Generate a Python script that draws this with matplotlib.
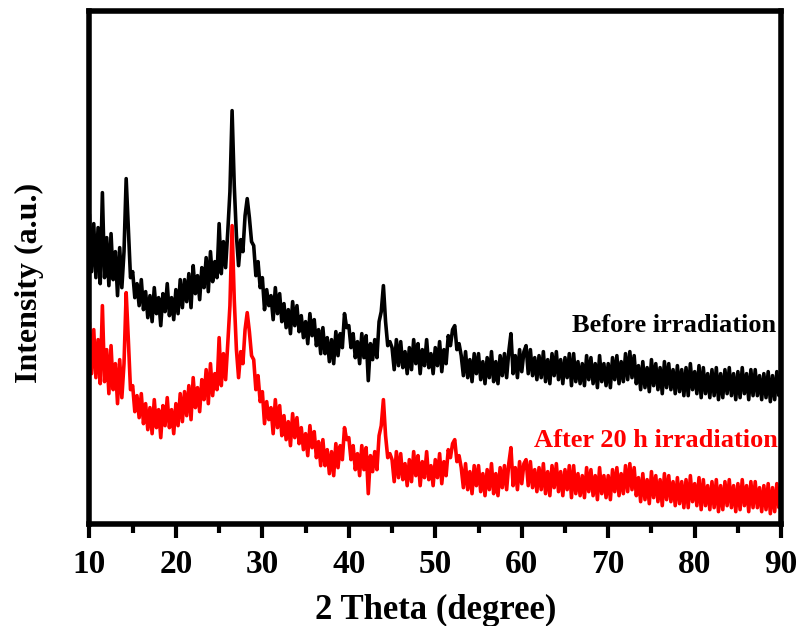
import matplotlib

matplotlib.use("Agg")
import matplotlib.pyplot as plt
from matplotlib.ticker import MultipleLocator
import numpy as np

# XRD scans, 0.25 degree steps from 10 to 90 (2 theta)
before = [
    308, 252, 300, 246, 296, 240, 331, 246, 286, 238, 290, 244, 272, 228, 276, 236,
    272, 345, 296, 246, 252, 226, 240, 218, 244, 214, 232, 206, 228, 202, 236, 210,
    226, 198, 230, 212, 240, 208, 226, 204, 234, 210, 244, 216, 244, 222, 250, 216,
    258, 230, 248, 224, 256, 236, 266, 232, 272, 242, 262, 246, 300, 250, 282, 256,
    292, 332, 413, 338, 288, 258, 284, 272, 308, 325, 306, 282, 278, 248, 262, 236,
    246, 214, 234, 218, 228, 204, 236, 210, 230, 202, 220, 196, 214, 190, 222, 198,
    218, 192, 208, 186, 202, 180, 210, 188, 204, 178, 194, 170, 196, 170, 186, 162,
    184, 160, 192, 168, 190, 176, 210, 196, 198, 176, 190, 166, 182, 160, 190, 166,
    188, 143, 180, 164, 184, 166, 202, 212, 238, 202, 178, 182, 176, 154, 184, 158,
    182, 156, 172, 150, 176, 154, 184, 160, 180, 150, 174, 158, 184, 156, 170, 150,
    176, 158, 182, 152, 174, 160, 188, 178, 194, 198, 174, 180, 168, 148, 172, 146,
    164, 142, 170, 150, 170, 144, 162, 140, 166, 146, 172, 142, 162, 140, 168, 148,
    170, 146, 172, 190, 150, 168, 146, 174, 152, 172, 178, 150, 174, 148, 166, 144,
    168, 146, 172, 142, 164, 140, 170, 148, 172, 144, 164, 140, 166, 146, 170, 138,
    170, 142, 162, 140, 160, 138, 168, 144, 166, 140, 160, 136, 168, 142, 160, 138,
    160, 136, 166, 144, 168, 140, 162, 142, 170, 144, 172, 146, 168, 140, 158, 134,
    162, 136, 156, 132, 164, 138, 160, 134, 156, 130, 162, 136, 160, 134, 154, 130,
    158, 132, 154, 128, 156, 128, 160, 134, 152, 130, 158, 126, 156, 130, 150, 126,
    154, 128, 156, 124, 150, 126, 154, 130, 156, 128, 150, 124, 152, 126, 156, 130,
    150, 124, 154, 128, 154, 128, 148, 124, 150, 126, 152, 122, 148, 124, 152, 128,
    140,
]
after_20h = [
    200, 150, 194, 146, 184, 140, 218, 142, 174, 130, 178, 134, 160, 120, 164, 126,
    160, 231, 184, 134, 138, 112, 128, 106, 130, 100, 120, 94, 116, 90, 124, 96,
    114, 86, 118, 98, 126, 96, 114, 90, 120, 98, 130, 102, 132, 108, 138, 104,
    146, 116, 136, 112, 144, 124, 154, 120, 160, 128, 150, 134, 186, 138, 170, 144,
    180, 218, 298, 224, 174, 146, 172, 160, 194, 211, 192, 168, 164, 134, 148, 122,
    132, 100, 122, 104, 116, 90, 124, 96, 118, 88, 108, 84, 102, 78, 110, 86,
    106, 80, 96, 74, 90, 68, 98, 76, 92, 66, 82, 58, 84, 58, 74, 50,
    72, 48, 80, 56, 78, 64, 96, 84, 86, 64, 78, 54, 70, 48, 78, 54,
    76, 30, 68, 52, 72, 54, 88, 98, 124, 88, 66, 70, 64, 42, 72, 46,
    70, 44, 60, 38, 64, 42, 72, 48, 68, 38, 62, 46, 72, 44, 58, 38,
    64, 46, 70, 40, 62, 48, 74, 66, 80, 84, 62, 68, 56, 36, 60, 34,
    52, 30, 58, 38, 58, 32, 50, 28, 54, 34, 60, 30, 50, 28, 56, 36,
    58, 34, 60, 76, 38, 56, 34, 62, 40, 60, 64, 38, 62, 36, 54, 32,
    56, 34, 60, 30, 52, 28, 58, 36, 60, 32, 52, 28, 54, 34, 58, 26,
    58, 30, 50, 28, 48, 26, 56, 32, 54, 28, 48, 24, 56, 30, 48, 26,
    48, 24, 54, 32, 56, 28, 50, 30, 58, 32, 60, 34, 56, 28, 46, 22,
    50, 24, 44, 20, 52, 26, 48, 22, 44, 18, 50, 24, 48, 22, 42, 18,
    46, 20, 42, 16, 44, 16, 48, 22, 40, 18, 46, 14, 44, 18, 38, 14,
    42, 16, 44, 12, 38, 14, 42, 18, 44, 16, 38, 12, 40, 14, 44, 18,
    38, 12, 42, 16, 42, 16, 36, 12, 38, 14, 40, 10, 36, 12, 40, 16,
    26,
]
two_theta = np.linspace(10, 90, len(before))

plt.rcParams["font.family"] = ["Liberation Serif", "DejaVu Serif"]
plt.rcParams["font.weight"] = "bold"

fig = plt.figure(figsize=(8.02, 6.26), dpi=100)
ax = fig.add_axes([0.1115, 0.1635, 0.8625, 0.8195])

ax.plot(two_theta, before, color="black", lw=2.6)
ax.plot(two_theta, after_20h, color="red", lw=2.6)

ax.text(89.4, 198, "Before irradiation", ha="right", va="center",
        fontsize=19, fontweight="bold", color="black")
ax.text(89.6, 83, "After 20 h irradiation", ha="right", va="center",
        fontsize=19, fontweight="bold", color="red")

ax.set_xlim(10, 90)
ax.set_ylim(0, 513)
ax.xaxis.set_major_locator(MultipleLocator(10))
ax.xaxis.set_minor_locator(MultipleLocator(5))
ax.set_yticks([])
ax.tick_params(axis="x", which="major", direction="out", length=10, width=3,
               labelsize=24, pad=8)
ax.tick_params(axis="x", which="minor", direction="out", length=6.5, width=3)
for lab in ax.get_xticklabels():
    lab.set_fontweight("bold")
for sp in ax.spines.values():
    sp.set_linewidth(4)

ax.set_xlabel("2 Theta (degree)", fontsize=25, fontweight="bold", labelpad=10)
ax.set_ylabel("Intensity (a.u.)", fontsize=23, fontweight="bold")
ax.yaxis.set_label_coords(-0.065, 0.47)

fig.savefig("out.png", dpi=100)
